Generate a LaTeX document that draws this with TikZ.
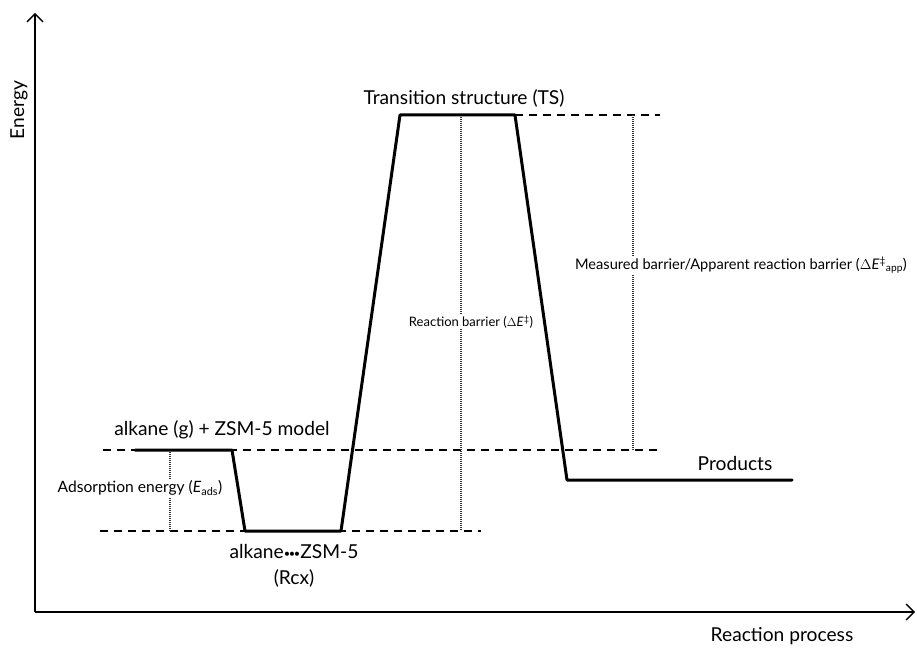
\documentclass[tikz,border=0pt]{standalone}
\usepackage{fontspec}
\setmainfont{Lato}
\usetikzlibrary{arrows.meta}
\newcommand{\tridots}{\raisebox{0.05em}{\fontsize{11}{11}\selectfont\textbullet\hspace{-0.12em}\textbullet\hspace{-0.12em}\textbullet}}
\begin{document}
\begin{tikzpicture}[x=1pt,y=-1pt,
  axis/.style={line width=1.4pt,-{Straight Barb[length=8pt,width=16pt,line width=1.4pt]}},
  level/.style={line width=3pt,line cap=round,line join=round},
  guide/.style={line width=1.3pt,dash pattern=on 8pt off 6pt},
  measure/.style={line width=1.2pt,dash pattern=on 1pt off 1pt,black!80},
  big/.style={font=\fontsize{19.2}{22}\selectfont,inner sep=1pt},
  small/.style={inner sep=1pt,fill=white}]
\useasboundingbox (0,0) rectangle (917,647);
% key points
\coordinate (O) at (35,612);
\coordinate (ytip) at (35,13);
\coordinate (xtip) at (915,612);
\coordinate (r1) at (135,450);
\coordinate (r2) at (232,450);
\coordinate (c1) at (245,531);
\coordinate (c2) at (341,531);
\coordinate (t1) at (400,115);
\coordinate (t2) at (515,115);
\coordinate (p1) at (567,480);
\coordinate (p2) at (792,480);
% axes
\draw[axis] (O) -- (ytip);
\draw[axis] (O) -- (xtip);
\node[big,rotate=90] (elab) at (19,110) {Energy};
\node[big] (xlab) at (782,636) {Reaction process};
% guides
\coordinate (gr0) at (103,450);
\coordinate (gr1) at (660,450);
\coordinate (gc0) at (100,531);
\coordinate (gc1) at (481,531);
\coordinate (gt1) at (660,115);
\draw[guide] (gr0) -- (gr1);
\draw[guide] (gc0) -- (gc1);
\draw[guide] (t2) -- (gt1);
% measures
\coordinate (ma0) at (170,450);
\coordinate (ma1) at (170,531);
\coordinate (mb0) at (461,115);
\coordinate (mb1) at (461,531);
\coordinate (mc0) at (633,115);
\coordinate (mc1) at (633,450);
\draw[measure] (ma0) -- (ma1);
\draw[measure] (mb0) -- (mb1);
\draw[measure] (mc0) -- (mc1);
% energy profile
\draw[level] (r1) -- (r2) -- (c1) -- (c2) -- (t1) -- (t2) -- (p1) -- (p2);
% labels
\node[big] (ts) at (464,98) {Transition structure (TS)};
\node[big] (react) at (222,430) {alkane (g) + ZSM-5 model};
\node[big] (rcx) at (294,551) {alkane\tridots ZSM-5};
\node[big] (rcx2) at (294,578) {(Rcx)};
\node[big] (prod) at (735,464) {Products};
\node[small,font=\fontsize{15.6}{18}\selectfont] (ads) at (140,488) {Adsorption energy (\textit{E}\textsubscript{ads})};
\node[small,font=\fontsize{13}{16}\selectfont] (rb) at (471,322) {Reaction barrier ($\Delta$\textit{E}\textsuperscript{‡})};
\node[small,font=\fontsize{14.6}{17}\selectfont] (mb) at (741,265) {Measured barrier/Apparent reaction barrier ($\Delta$\textit{E}\textsuperscript{‡}\textsubscript{app})};
\end{tikzpicture}
\end{document}
